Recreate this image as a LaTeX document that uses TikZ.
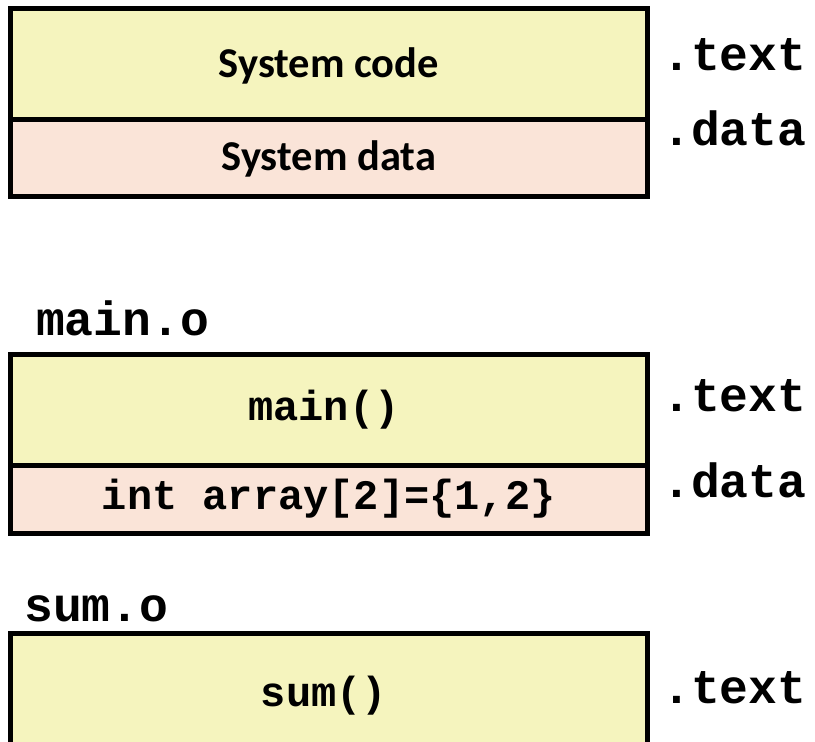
\documentclass[tikz,border=0pt]{standalone}
\usepackage{fontspec}
\usepackage{xcolor}
\newfontfamily\monofont{Liberation Mono}
\newfontfamily\calfont{Carlito}
\definecolor{vblack}{HTML}{000000}
\definecolor{vyellow}{HTML}{F5F4BE}
\definecolor{vpink}{HTML}{FAE4D8}

\tikzset{
	seclabel/.style = {anchor = base west, inner sep = 0pt, font = \monofont\bfseries\fontsize{48}{48}\selectfont},
	codetext/.style = {anchor = base, inner sep = 0pt, font = \monofont\bfseries\fontsize{42}{42}\selectfont},
	systext/.style = {anchor = base, inner sep = 0pt, font = \calfont\bfseries\fontsize{42.5}{42.5}\selectfont},
	outline/.style = {line width = 5pt, draw = vblack}
}

\begin{document}
\begin{tikzpicture}[x = 1pt, y = -1pt]
	\useasboundingbox (0,0) rectangle (815,742);
	\clip (0,0) rectangle (815,742);
	% box-1
	\fill[vyellow] (10,8.3) rectangle (647.5,119.5);
	\fill[vpink] (10,119.5) rectangle (647.5,196);
	\draw[outline] (10,8.3) rectangle (647.5,196);
	\draw[outline] (10,119.5) -- (647.5,119.5);
	\node[systext] (syscode) at (328.75,77) {System code};
	\node[systext] (sysdata) at (328.75,170.5) {System data};
	\node[seclabel] (systextsec) at (662,70) {.text};
	\node[seclabel] (sysdatasec) at (662,145) {.data};
	% box-2
	\node[seclabel] (mainfile) at (36,335) {main.o};
	\fill[vyellow] (10,354) rectangle (647.5,465);
	\fill[vpink] (10,465) rectangle (647.5,533);
	\draw[outline] (10,354) rectangle (647.5,533);
	\draw[outline] (10,465) -- (647.5,465);
	\node[codetext] (maincode) at (324,420.7) {main()};
	\node[codetext] (maindata) at (328.75,509.3) {int array[2]=\{1,2\}};
	\node[seclabel] (maintextsec) at (662,411) {.text};
	\node[seclabel] (maindatasec) at (662,497) {.data};
	% box-3
	\node[seclabel] (sumfile) at (24,621.7) {sum.o};
	\fill[vyellow] (10,633) rectangle (647.5,760);
	\draw[outline] (10,633) rectangle (647.5,760);
	\node[codetext] (sumcode) at (324,706.7) {sum()};
	\node[seclabel] (sumtextsec) at (662,703) {.text};
\end{tikzpicture}
\end{document}
